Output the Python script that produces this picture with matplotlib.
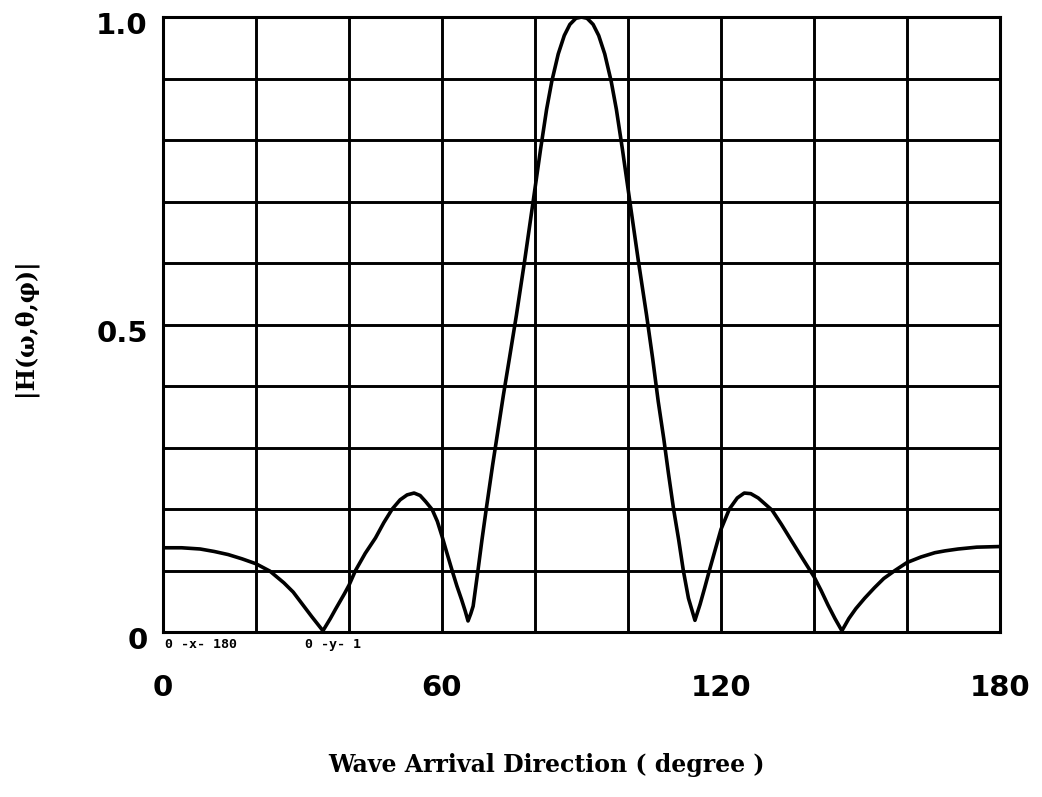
import matplotlib
matplotlib.use('Agg')
import matplotlib.pyplot as plt
from matplotlib.transforms import ScaledTranslation

# values
angle_deg = [0, 4, 8, 11, 14, 17, 20, 23, 26, 28, 30, 32, 34.4, 36, 37.1, 39, 40,
             41.4, 43.5, 45.7, 47.5, 49.3, 51, 52.5, 54, 55.3, 56.5, 57.9, 59, 60,
             61, 62.1, 63.2, 64.2, 65, 65.6, 66.2, 66.7, 67.7, 68.6, 69.5, 70.9,
             72, 73.2, 74.5, 76, 77.8, 79.6, 81.2, 82.5, 83.6, 85, 86.3, 87.5, 88.8,
             90, 91.2, 92.5, 93.7, 95, 96.4, 97.5, 98.8, 100.4, 102.2, 104, 105.3,
             106.5, 107.7, 108.7, 109.8, 110.9, 111.9, 113, 114.4, 115.5, 116.5,
             117.5, 118.8, 120, 121.8, 123.5, 125, 126.4, 128, 129.5, 131, 133,
             135.2, 137.5, 140, 141.5, 143, 144.5, 146, 147.5, 149, 150.9, 153, 155,
             157.4, 160, 163, 166, 168.2, 171, 175, 180]
magnitude = [0.137, 0.137, 0.135, 0.131, 0.126, 0.119, 0.111, 0.099, 0.080, 0.065,
             0.045, 0.025, 0.002, 0.022, 0.037, 0.062, 0.076, 0.100, 0.128, 0.153,
             0.178, 0.200, 0.215, 0.223, 0.226, 0.222, 0.212, 0.199, 0.180, 0.156,
             0.130, 0.102, 0.075, 0.053, 0.034, 0.018, 0.030, 0.042, 0.098, 0.150,
             0.199, 0.272, 0.326, 0.385, 0.445, 0.515, 0.605, 0.700, 0.785, 0.850,
             0.895, 0.940, 0.970, 0.988, 0.998, 1.000, 0.998, 0.988, 0.970, 0.940,
             0.895, 0.850, 0.785, 0.700, 0.605, 0.515, 0.445, 0.375, 0.314, 0.258,
             0.200, 0.150, 0.100, 0.055, 0.019, 0.045, 0.072, 0.100, 0.135, 0.167,
             0.200, 0.218, 0.226, 0.225, 0.218, 0.208, 0.198, 0.175, 0.148, 0.120,
             0.090, 0.068, 0.044, 0.022, 0.002, 0.022, 0.038, 0.055, 0.072, 0.087,
             0.100, 0.113, 0.122, 0.129, 0.132, 0.135, 0.138, 0.139]

x_grid = [0, 20, 40, 60, 80, 100, 120, 140, 160, 180]
x_labels = ['0', '', '', '60', '', '', '120', '', '', '180']
y_grid = [0, 0.1, 0.2, 0.3, 0.4, 0.5, 0.6, 0.7, 0.8, 0.9, 1.0]
y_labels = ['0', '', '', '', '', '0.5', '', '', '', '', '1.0']

fig = plt.figure(figsize=(10.42, 7.97), dpi=100)
ax = fig.add_axes([0.1564, 0.207, 0.8033, 0.7716])

ax.plot(angle_deg, magnitude, color='black', lw=2.6, solid_joinstyle='round')

ax.set_xlim(0, 180)
ax.set_ylim(0, 1.0)
ax.set_xticks(x_grid)
ax.set_xticklabels(x_labels)
ax.set_yticks(y_grid)
ax.set_yticklabels(y_labels)
ax.grid(True, color='black', lw=2.1)
ax.tick_params(length=0, labelsize=21)
ax.tick_params(axis='x', pad=30)
ax.tick_params(axis='y', pad=11)
for lab in ax.get_xticklabels() + ax.get_yticklabels():
    lab.set_fontweight('bold')
for lab in ax.get_yticklabels():
    lab.set_transform(lab.get_transform() + ScaledTranslation(0, -0.06, fig.dpi_scale_trans))
for s in ax.spines.values():
    s.set_linewidth(2.2)

ax.text(0.5, -0.01, '0 -x- 180', transform=ax.transData, va='top', ha='left',
        family='DejaVu Sans Mono', fontweight='bold', fontsize=9.5)
ax.text(30.5, -0.01, '0 -y- 1', transform=ax.transData, va='top', ha='left',
        family='DejaVu Sans Mono', fontweight='bold', fontsize=9.5)

fig.text(25 / 1042, 1 - 327 / 797, '|H(ω,θ,φ)|', rotation=90, ha='center', va='center',
         family='DejaVu Serif', fontweight='bold', fontsize=17)
fig.text(547 / 1042, 1 - 765 / 797, 'Wave Arrival Direction ( degree )', ha='center',
         va='center', family='DejaVu Serif', fontweight='bold', fontsize=17)

fig.savefig('out.png', dpi=100)
